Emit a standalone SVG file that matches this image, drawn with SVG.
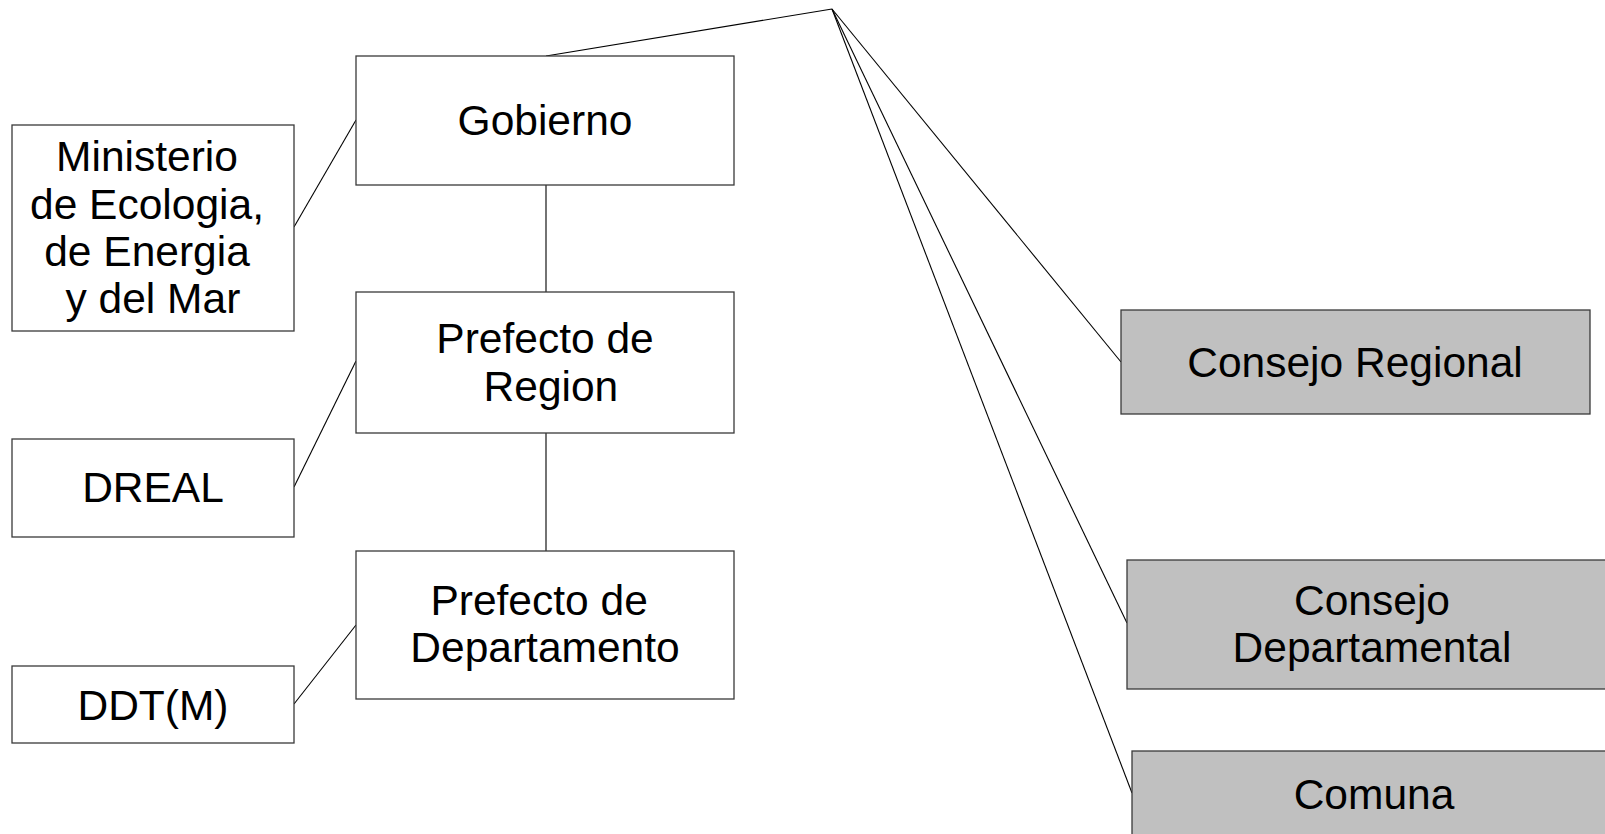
<svg xmlns="http://www.w3.org/2000/svg" width="1605" height="834" viewBox="0 0 1605 834">
<style>
.b{fill:#fff;stroke:#3a3a3a;stroke-width:1.3}
.g{fill:#c0c0c0;stroke:#3a3a3a;stroke-width:1.3}
.t{font-family:"Liberation Sans",Arial,sans-serif;font-size:42.5px;fill:#000;text-anchor:middle}
.c line{stroke:#000;stroke-width:1.1}
</style>
<rect width="1605" height="834" fill="#fff"/>
<g class="c" id="connectors">
<line x1="832" y1="9" x2="546" y2="56"/>
<line x1="832" y1="9" x2="1121" y2="362"/>
<line x1="832" y1="9" x2="1127" y2="623"/>
<line x1="832" y1="9" x2="1132" y2="793"/>
<line x1="546" y1="185" x2="546" y2="292"/>
<line x1="546" y1="433" x2="546" y2="551"/>
<line x1="294" y1="227" x2="356" y2="120"/>
<line x1="294" y1="487" x2="356" y2="361"/>
<line x1="294" y1="704" x2="356" y2="625"/>
</g>
<g id="gobierno"><rect class="b" x="356" y="56" width="378" height="129"/><text class="t" x="545" y="135">Gobierno</text></g>
<g id="ministerio"><rect class="b" x="12" y="125" width="282" height="206"/>
<text class="t" x="147" y="171">Ministerio</text>
<text class="t" x="147" y="219">de Ecologia,</text>
<text class="t" x="147" y="266">de Energia</text>
<text class="t" x="147" y="313" xml:space="preserve"> y del Mar</text></g>
<g id="prefecto-region"><rect class="b" x="356" y="292" width="378" height="141"/>
<text class="t" x="545" y="353">Prefecto de</text>
<text class="t" x="545" y="401" xml:space="preserve"> Region</text></g>
<g id="dreal"><rect class="b" x="12" y="439" width="282" height="98"/><text class="t" x="153" y="502">DREAL</text></g>
<g id="prefecto-departamento"><rect class="b" x="356" y="551" width="378" height="148"/>
<text class="t" x="545" y="615" xml:space="preserve">Prefecto de </text>
<text class="t" x="545" y="662">Departamento</text></g>
<g id="ddtm"><rect class="b" x="12" y="666" width="282" height="77"/><text class="t" x="153" y="720">DDT(M)</text></g>
<g id="consejo-regional"><rect class="g" x="1121" y="310" width="469" height="104"/><text class="t" x="1355" y="377">Consejo Regional</text></g>
<g id="consejo-departamental"><rect class="g" x="1127" y="560" width="490" height="129"/>
<text class="t" x="1372" y="615">Consejo</text>
<text class="t" x="1372" y="662">Departamental</text></g>
<g id="comuna"><rect class="g" x="1132" y="751" width="490" height="100"/><text class="t" x="1374" y="809">Comuna</text></g>
</svg>
